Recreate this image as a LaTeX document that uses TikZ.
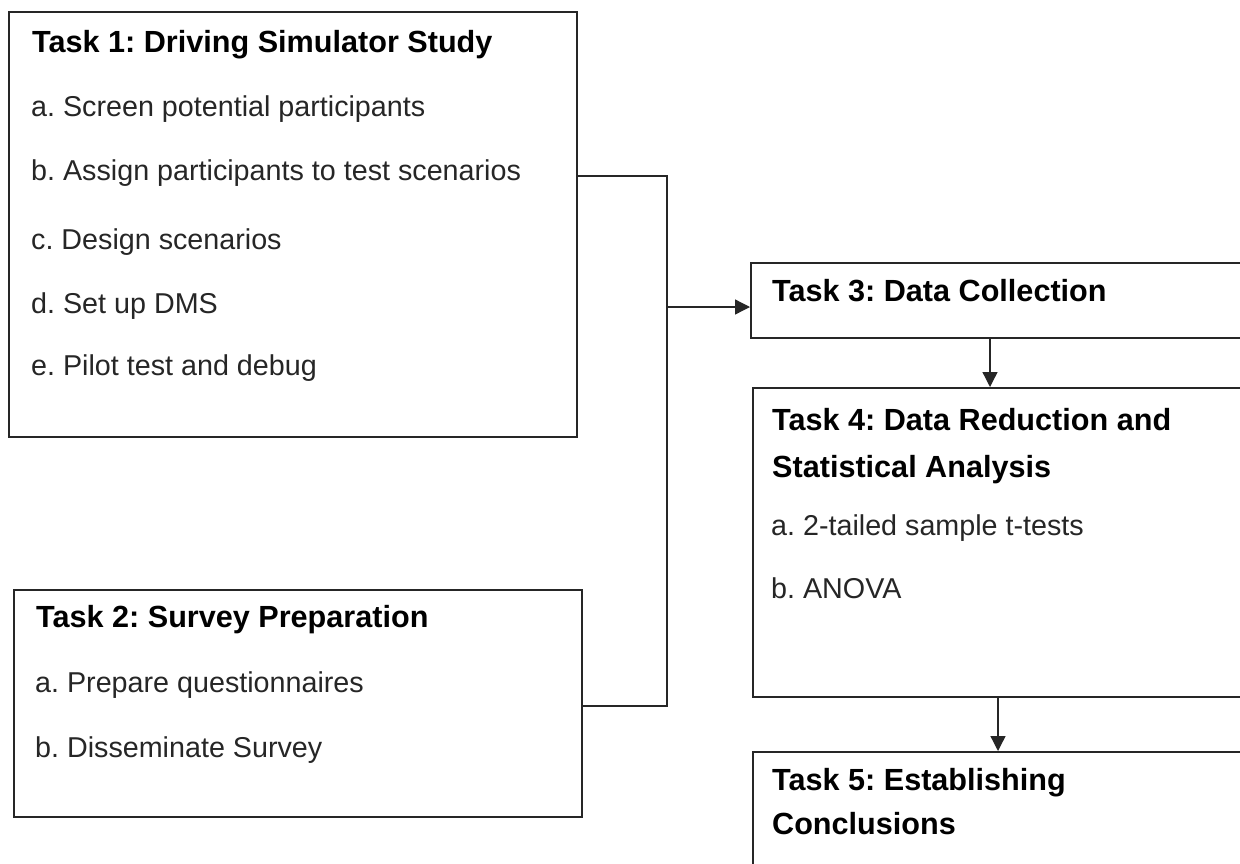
\documentclass[tikz,border=0pt]{standalone}
\usepackage{fontspec}
\setmainfont{Liberation Sans}
\usetikzlibrary{arrows.meta}
\frenchspacing
\tikzset{
  box/.style={draw=black!85, line width=1.6pt, inner sep=0pt, anchor=north west},
  ttl/.style={anchor=base west, inner sep=0pt, font=\fontsize{30.6}{36}\selectfont\bfseries, text=black},
  itm/.style={anchor=base west, inner sep=0pt, font=\fontsize{28.7}{34}\selectfont, text=black!85},
  conn/.style={draw=black!85, line width=1.3pt},
  arr/.style={conn, -{Triangle[length=15pt,width=15pt]}},
}
\begin{document}
\begin{tikzpicture}[x=1pt,y=-1pt]
\useasboundingbox (0,0) rectangle (1240,863);
\clip (0,0) rectangle (1240,863);
\fill[white] (0,0) rectangle (1240,863);
% boxes
\node[box, minimum width=568pt, minimum height=425pt] (t1) at (8,11) {};
\node[box, minimum width=568pt, minimum height=227pt] (t2) at (13,589) {};
\node[box, minimum width=500pt, minimum height=75pt] (t3) at (750,262) {};
\node[box, minimum width=498pt, minimum height=309pt] (t4) at (752,387) {};
\node[box, minimum width=498pt, minimum height=130pt] (t5) at (752,751) {};
% texts task 1
\node[ttl] (t1h) at (32,52) {Task 1: Driving Simulator Study};
\node[itm] (t1a) at (31,116) {a. Screen potential participants};
\node[itm] (t1b) at (31,180) {b. Assign participants to test scenarios};
\node[itm] (t1c) at (31,249) {c. Design scenarios};
\node[itm] (t1d) at (31,313) {d. Set up DMS};
\node[itm] (t1e) at (31,375) {e. Pilot test and debug};
% task 2
\node[ttl] (t2h) at (36,627) {Task 2: Survey Preparation};
\node[itm] (t2a) at (35,692) {a. Prepare questionnaires};
\node[itm] (t2b) at (35,757) {b. Disseminate Survey};
% task 3
\node[ttl] (t3h) at (772,301) {Task 3: Data Collection};
% task 4
\node[ttl] (t4h) at (772,430) {Task 4: Data Reduction and};
\node[ttl] (t4i) at (772,477) {Statistical Analysis};
\node[itm] (t4a) at (771,535) {a. 2-tailed sample t-tests};
\node[itm] (t4b) at (771,598) {b. ANOVA};
% task 5
\node[ttl] (t5h) at (772,790) {Task 5: Establishing};
\node[ttl] (t5i) at (772,834) {Conclusions};
% connectors
\coordinate (j1) at (667,176);
\coordinate (j2) at (667,706);
\coordinate (j3) at (667,307);
\coordinate (c34) at (990,0);
\coordinate (c45) at (998,0);
\draw[conn] (t1.east |- j1) -- (j1) -- (j2) -- (t2.east |- j2);
\draw[arr] (j3) -- (t3.west |- j3);
\draw[arr] (t3.south -| c34) -- (t4.north -| c34);
\draw[arr] (t4.south -| c45) -- (t5.north -| c45);
\end{tikzpicture}
\end{document}
